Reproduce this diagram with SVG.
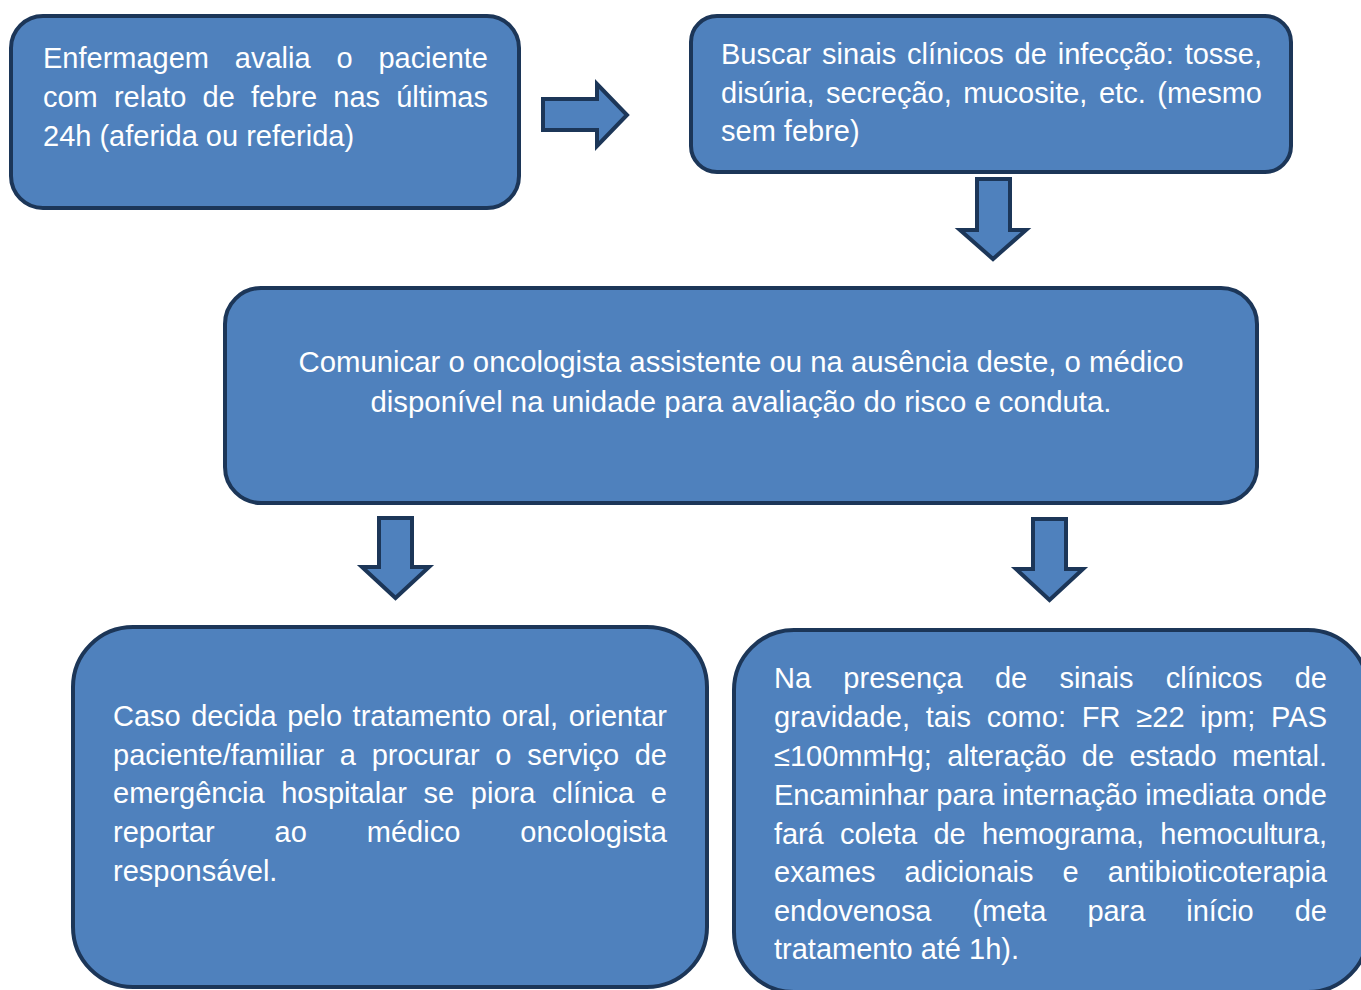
<svg xmlns="http://www.w3.org/2000/svg" width="1361" height="990" viewBox="0 0 1361 990">
<style>
.box{fill:#4F81BD;stroke:#1C3658;stroke-width:4}
.arr{fill:#4F81BD;stroke:#1C3658;stroke-width:4;stroke-linejoin:miter}
text{font-family:"Liberation Sans",Arial,sans-serif;font-size:29px;fill:#FFFFFF}
</style>
<rect width="1361" height="990" fill="#FFFFFF"/>
<g id="connectors">
<polygon class="arr" points="543,99 597,99 597,84 627,115 597,146 597,130 543,130"/>
<polygon class="arr" points="977,179 1010,179 1010,230 1026,230 993,259 960,230 977,230"/>
<polygon class="arr" points="379,518 412,518 412,567 429,567 395.5,598 362,567 379,567"/>
<polygon class="arr" points="1033,519 1066,519 1066,569 1083,569 1049.5,600 1016,569 1033,569"/>
</g>
<g id="node1">
<rect class="box" x="11" y="16" width="508" height="192" rx="32"/>
<text x="43" y="68" word-spacing="17.8" textLength="445" lengthAdjust="spacing">Enfermagem avalia o paciente</text>
<text x="43" y="107" word-spacing="8.1" textLength="445" lengthAdjust="spacing">com relato de febre nas últimas</text>
<text x="43" y="146">24h (aferida ou referida)</text>
</g>
<g id="node2">
<rect class="box" x="691" y="16" width="600" height="156" rx="26"/>
<text x="721" y="64" word-spacing="2.8" textLength="541" lengthAdjust="spacing">Buscar sinais clínicos de infecção: tosse,</text>
<text x="721" y="103" word-spacing="3.5" textLength="541" lengthAdjust="spacing">disúria, secreção, mucosite, etc. (mesmo</text>
<text x="721" y="141">sem febre)</text>
</g>
<g id="node3">
<rect class="box" x="225" y="288" width="1032" height="215" rx="36"/>
<text x="741" y="372" text-anchor="middle" textLength="885" lengthAdjust="spacingAndGlyphs">Comunicar o oncologista assistente ou na ausência deste, o médico</text>
<text x="741" y="412" text-anchor="middle" textLength="741" lengthAdjust="spacingAndGlyphs">disponível na unidade para avaliação do risco e conduta.</text>
</g>
<g id="node4">
<rect class="box" x="73" y="627" width="634" height="360" rx="60"/>
<text x="113" y="726" word-spacing="2.5" textLength="554" lengthAdjust="spacing">Caso decida pelo tratamento oral, orientar</text>
<text x="113" y="765" word-spacing="7.66" textLength="554" lengthAdjust="spacing">paciente/familiar a procurar o serviço de</text>
<text x="113" y="803" word-spacing="8.62" textLength="554" lengthAdjust="spacing">emergência hospitalar se piora clínica e</text>
<text x="113" y="842" word-spacing="51.97" textLength="554" lengthAdjust="spacing">reportar ao médico oncologista</text>
<text x="113" y="881">responsável.</text>
</g>
<g id="node5">
<rect class="box" x="734" y="630" width="634" height="362" rx="60"/>
<text x="774" y="688" word-spacing="24.22" textLength="553" lengthAdjust="spacing">Na presença de sinais clínicos de</text>
<text x="774" y="727" word-spacing="7.59" textLength="553" lengthAdjust="spacing">gravidade, tais como: FR ≥22 ipm; PAS</text>
<text x="774" y="766" word-spacing="7.34" textLength="553" lengthAdjust="spacing">≤100mmHg; alteração de estado mental.</text>
<text x="774" y="805" textLength="553" lengthAdjust="spacing">Encaminhar para internação imediata onde</text>
<text x="774" y="844" word-spacing="8.51" textLength="553" lengthAdjust="spacing">fará coleta de hemograma, hemocultura,</text>
<text x="774" y="882" word-spacing="21.0" textLength="553" lengthAdjust="spacing">exames adicionais e antibioticoterapia</text>
<text x="774" y="921" word-spacing="33.1" textLength="553" lengthAdjust="spacing">endovenosa (meta para início de</text>
<text x="774" y="959">tratamento até 1h).</text>
</g>
</svg>
